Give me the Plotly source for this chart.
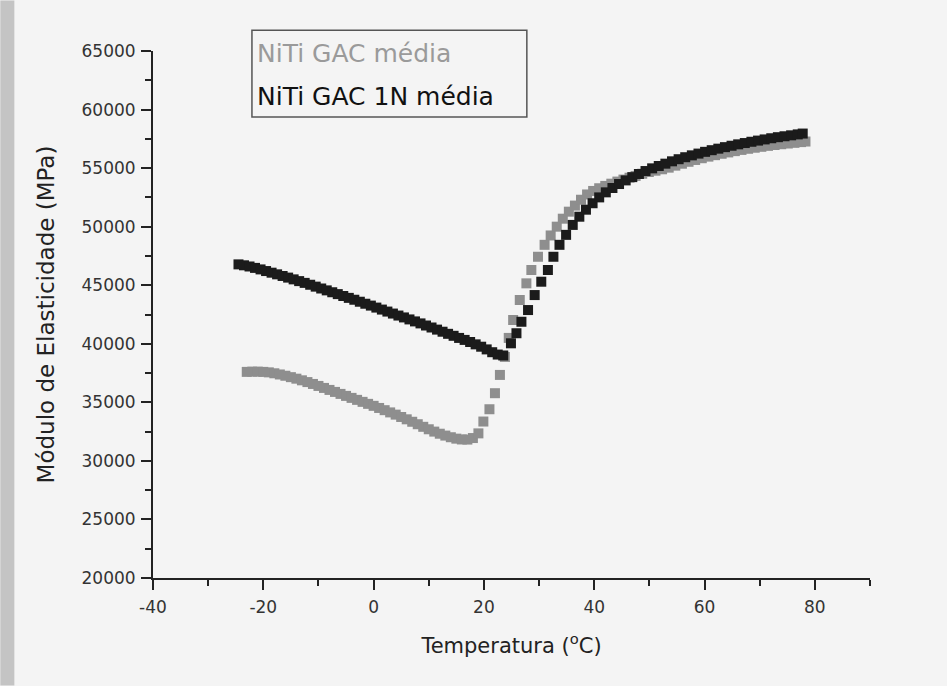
import plotly.graph_objects as go

# ---- data ----
series_names = ["NiTi GAC média", "NiTi GAC 1N média"]

temp_gac = [-23.0, -22.0, -21.0, -20.0, -19.0, -18.0, -17.0, -16.0, -15.0, -14.0,
            -13.0, -12.0, -11.0, -10.0, -9.0, -8.0, -7.0, -6.0, -5.0, -4.0,
            -3.0, -2.0, -1.0, 0.0, 1.0, 2.0, 3.0, 4.0, 5.0, 6.0,
            7.0, 8.0, 9.0, 10.0, 11.0, 12.0, 13.0, 14.0, 15.0, 16.0,
            17.0, 18.0, 19.0, 19.9, 21.0, 22.0, 22.9, 23.8, 24.5, 25.3,
            26.5, 27.7, 28.6, 29.8, 31.0, 32.1, 33.2, 34.3, 35.4, 36.5,
            37.6, 38.7, 39.8, 40.9, 42.0, 43.1, 44.2, 45.3, 46.4, 47.5,
            48.7, 49.9, 51.1, 52.3, 53.5, 54.7, 55.9, 57.1, 58.3, 59.5,
            60.7, 61.9, 63.1, 64.3, 65.5, 66.7, 67.9, 69.1, 70.3, 71.5,
            72.7, 73.9, 75.1, 76.3, 77.5, 78.3]
mod_gac = [37600, 37620, 37620, 37600, 37560, 37480, 37380, 37270, 37150, 37020,
           36880, 36730, 36570, 36400, 36230, 36060, 35890, 35720, 35550, 35380,
           35210, 35040, 34870, 34700, 34520, 34330, 34140, 33950, 33750, 33550,
           33340, 33130, 32910, 32700, 32500, 32320, 32160, 32020, 31900, 31830,
           31820, 31950, 32350, 33360, 34410, 35780, 37340, 38880, 40500, 42030,
           43740, 45160, 46300, 47430, 48450, 49250, 50000, 50680, 51280, 51800,
           52300, 52750, 53050, 53280, 53480, 53670, 53850, 54020, 54180, 54330,
           54520, 54670, 54780, 54900, 55040, 55210, 55375, 55540, 55695, 55845,
           55980, 56105, 56225, 56340, 56450, 56555, 56650, 56740, 56820, 56900,
           56975, 57040, 57100, 57160, 57220, 57270]

temp_gac1n = [-24.5, -23.5, -22.5, -21.5, -20.5, -19.5, -18.5, -17.5, -16.5, -15.5,
              -14.5, -13.5, -12.5, -11.5, -10.5, -9.5, -8.5, -7.5, -6.5, -5.5,
              -4.5, -3.5, -2.5, -1.5, -0.5, 0.5, 1.5, 2.5, 3.5, 4.5,
              5.5, 6.5, 7.5, 8.5, 9.5, 10.5, 11.5, 12.5, 13.5, 14.5,
              15.5, 16.5, 17.5, 18.5, 19.5, 20.5, 21.5, 22.5, 23.5,
              24.9, 25.9, 26.8, 28.0, 29.2, 30.4, 31.6, 32.6, 33.7, 34.9,
              36.1, 37.3, 38.5, 39.7, 40.9, 42.1, 43.3, 44.5, 45.7, 46.9,
              48.1, 49.3, 50.5, 51.7, 52.9, 54.1, 55.3, 56.5, 57.7, 58.9,
              60.1, 61.3, 62.5, 63.7, 64.9, 66.1, 67.3, 68.5, 69.7, 70.9,
              72.1, 73.3, 74.5, 75.7, 76.9, 77.8]
mod_gac1n = [46780, 46700, 46600, 46480, 46350, 46210, 46070, 45930, 45790, 45650,
             45500, 45350, 45200, 45040, 44880, 44720, 44560, 44400, 44240, 44080,
             43920, 43760, 43590, 43420, 43260, 43090, 42920, 42750, 42580, 42410,
             42250, 42080, 41910, 41740, 41560, 41390, 41210, 41030, 40850, 40680,
             40500, 40330, 40150, 39950, 39750, 39520, 39280, 39080, 39000,
             40040, 40900, 41880, 42880, 44160, 45300, 46300, 47430, 48450, 49300,
             50150, 50850, 51450, 52000, 52500, 52930, 53300, 53640, 53950, 54230,
             54500, 54750, 54980, 55180, 55380, 55580, 55760, 55930, 56090, 56240,
             56390, 56530, 56660, 56790, 56910, 57030, 57140, 57250, 57350, 57450,
             57550, 57640, 57720, 57800, 57880, 57950]

x_ticks = [-40, -20, 0, 20, 40, 60, 80]
y_ticks = [20000, 25000, 30000, 35000, 40000, 45000, 50000, 55000, 60000, 65000]

# ---- styling ----
INK = "#222222"
LIGHT = "#8e8e8e"
DARK = "#1b1b1b"
BG = "#f4f4f4"
FONT = "DejaVu Sans"

fig = go.Figure()
fig.add_trace(go.Scatter(x=temp_gac, y=mod_gac, mode="markers", name=series_names[0],
                         marker=dict(symbol="square", size=10, color=LIGHT, line=dict(width=0)),
                         showlegend=False))
fig.add_trace(go.Scatter(x=temp_gac1n, y=mod_gac1n, mode="markers", name=series_names[1],
                         marker=dict(symbol="square", size=10, color=DARK, line=dict(width=0)),
                         showlegend=False))

axis_common = dict(showline=True, linecolor=INK, linewidth=2, ticks="outside",
                   ticklen=10, tickwidth=2, tickcolor=INK, showgrid=False, zeroline=False,
                   mirror=False, tickfont=dict(family=FONT, size=17, color="#333333"))

fig.update_xaxes(range=[-40, 90], tickvals=x_ticks, ticktext=[str(v) for v in x_ticks],
                 minor=dict(tickvals=[-30, -10, 10, 30, 50, 70, 90], ticklen=6, tickwidth=2,
                            tickcolor=INK, ticks="outside", showgrid=False),
                 ticklabelstandoff=3,
                 title=dict(text="Temperatura (<sup>o</sup>C)", font=dict(family=FONT, size=21, color="#222222"),
                            standoff=22),
                 **axis_common)
fig.update_yaxes(range=[20000, 65000], tickvals=y_ticks, ticktext=[str(v) for v in y_ticks],
                 minor=dict(tickvals=[22500, 27500, 32500, 37500, 42500, 47500, 52500, 57500, 62500],
                            ticklen=6, tickwidth=2, tickcolor=INK, ticks="outside", showgrid=False),
                 ticklabelstandoff=2,
                 title=dict(text="Módulo de Elasticidade (MPa)", font=dict(family=FONT, size=23, color="#222222"),
                            standoff=20),
                 **axis_common)

# legend box drawn as text annotations (reference legend has no symbols)
fig.add_shape(type="rect", xref="paper", yref="paper", x0=0.138, x1=0.5214, y0=0.8749, y1=1.0392,
              line=dict(color="#555555", width=1.5), fillcolor="rgba(0,0,0,0)")
fig.add_annotation(xref="paper", yref="paper", x=0.1426, y=0.9956, xanchor="left", yanchor="middle",
                   text=series_names[0], showarrow=False,
                   font=dict(family=FONT, size=25, color="#9a9a9a"))
fig.add_annotation(xref="paper", yref="paper", x=0.1426, y=0.9142, xanchor="left", yanchor="middle",
                   text=series_names[1], showarrow=False,
                   font=dict(family=FONT, size=25, color="#111111"))

# scan edge shading on the far left
fig.add_shape(type="rect", xref="paper", yref="paper", x0=-0.2129, x1=-0.1934, y0=-0.2041, y1=1.096,
              line=dict(width=0), fillcolor="#c4c4c4", layer="below")

fig.update_layout(width=947, height=686, margin=dict(l=153, r=77, t=51, b=108),
                  paper_bgcolor=BG, plot_bgcolor=BG, showlegend=False,
                  font=dict(family=FONT, color=INK))

fig.write_html("out.html", config={"displayModeBar": False},
               post_script="document.body.style.margin='0';document.body.style.background='%s';" % BG)
